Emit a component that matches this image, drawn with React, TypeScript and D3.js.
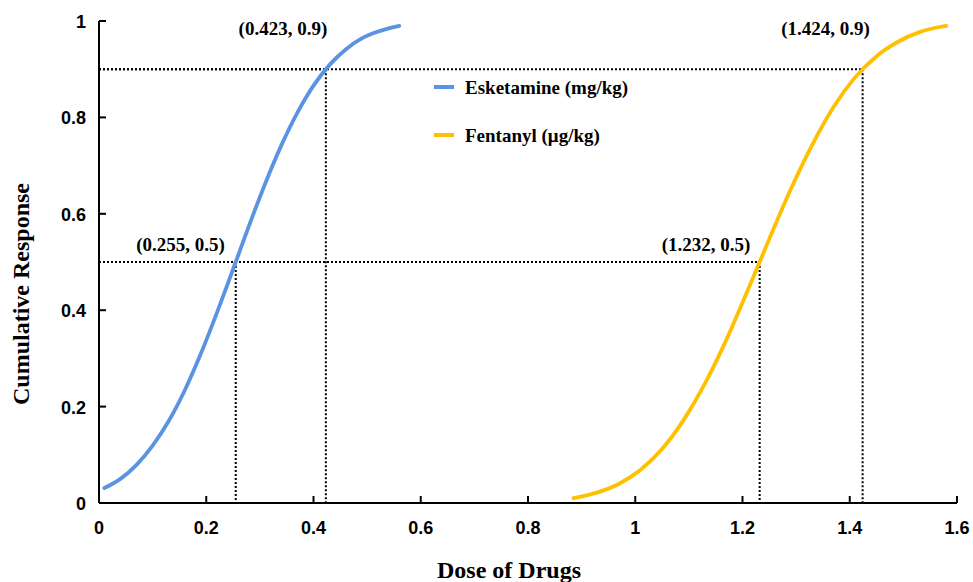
import React from "react";
import * as d3 from "d3";

const esketDose = [0.01, 0.04, 0.07, 0.1, 0.13, 0.16, 0.19, 0.22, 0.255, 0.28, 0.31, 0.34, 0.37, 0.4, 0.43, 0.46, 0.49, 0.52, 0.56];
const esketResp = [0.031, 0.05, 0.079, 0.119, 0.17, 0.234, 0.31, 0.395, 0.5, 0.576, 0.663, 0.742, 0.81, 0.866, 0.909, 0.941, 0.964, 0.978, 0.99];
const fentDose = [0.885, 0.93, 0.97, 1.01, 1.05, 1.09, 1.13, 1.17, 1.21, 1.232, 1.25, 1.29, 1.33, 1.37, 1.41, 1.45, 1.49, 1.53, 1.56, 1.58];
const fentResp = [0.01, 0.022, 0.04, 0.069, 0.112, 0.172, 0.248, 0.339, 0.442, 0.5, 0.548, 0.651, 0.743, 0.822, 0.883, 0.927, 0.957, 0.977, 0.986, 0.99];

const xTicks = [0, 0.2, 0.4, 0.6, 0.8, 1, 1.2, 1.4, 1.6];
const xTickLabels = ["0", "0.2", "0.4", "0.6", "0.8", "1", "1.2", "1.4", "1.6"];
const yTicks = [0, 0.2, 0.4, 0.6, 0.8, 1];
const yTickLabels = ["0", "0.2", "0.4", "0.6", "0.8", "1"];

const marks = [
  { x: 0.423, y: 0.9, label: "(0.423, 0.9)", lx: 0.343, ly: 0.97 },
  { x: 1.424, y: 0.9, label: "(1.424, 0.9)", lx: 1.355, ly: 0.97 },
  { x: 0.255, y: 0.5, label: "(0.255, 0.5)", lx: 0.152, ly: 0.523 },
  { x: 1.232, y: 0.5, label: "(1.232, 0.5)", lx: 1.132, ly: 0.523 },
];

const seriesNames = ["Esketamine (mg/kg)", "Fentanyl (μg/kg)"];
const colors = ["#5B93E3", "#FFC000"];

export default function App() {
  const x = d3.scaleLinear().domain([0, 1.6]).range([99, 957]);
  const y = d3.scaleLinear().domain([0, 1]).range([503, 21]);
  const line = d3.line<[number, number]>().x(d => x(d[0])).y(d => y(d[1])).curve(d3.curveMonotoneX);
  const s1 = esketDose.map((d, i) => [d, esketResp[i]] as [number, number]);
  const s2 = fentDose.map((d, i) => [d, fentResp[i]] as [number, number]);
  const tickFont = "Arial, 'Liberation Sans', sans-serif";
  const serif = "'Times New Roman', 'Liberation Serif', serif";
  return (
    <svg width={973} height={582} style={{ position: "absolute", left: 0, top: 0, background: "#fff" }}>
      {marks.map((m, i) => (
        <g key={i} stroke="#000" strokeWidth={2} strokeDasharray="2 2" fill="none">
          <line x1={x(0)} x2={x(m.x)} y1={y(m.y)} y2={y(m.y)} />
          <line x1={x(m.x)} x2={x(m.x)} y1={y(m.y)} y2={y(0)} />
        </g>
      ))}
      <path d={line(s1) || ""} fill="none" stroke={colors[0]} strokeWidth={3.8} strokeLinecap="round" />
      <path d={line(s2) || ""} fill="none" stroke={colors[1]} strokeWidth={3.8} strokeLinecap="round" />
      <line x1={x(0)} x2={x(1.6)} y1={y(0)} y2={y(0)} stroke="#000" strokeWidth={2} />
      <line x1={x(0)} x2={x(0)} y1={y(0)} y2={y(1)} stroke="#000" strokeWidth={2} />
      {xTicks.map((t, i) => (
        <g key={"x" + i}>
          <line x1={x(t)} x2={x(t)} y1={y(0)} y2={y(0) - 7} stroke="#000" strokeWidth={2} />
          <text x={x(t)} y={y(0) + 31} textAnchor="middle" fontFamily={tickFont} fontWeight="bold" fontSize={18}>{xTickLabels[i]}</text>
        </g>
      ))}
      {yTicks.map((t, i) => (
        <g key={"y" + i}>
          <line x1={x(0)} x2={x(0) + 7} y1={y(t)} y2={y(t)} stroke="#000" strokeWidth={2} />
          <text x={86} y={y(t) + 7} textAnchor="end" fontFamily={tickFont} fontWeight="bold" fontSize={18}>{yTickLabels[i]}</text>
        </g>
      ))}
      {marks.map((m, i) => (
        <text key={"l" + i} x={x(m.lx)} y={y(m.ly)} textAnchor="middle" fontFamily={serif} fontWeight="bold" fontSize={19}>{m.label}</text>
      ))}
      {seriesNames.map((n, i) => (
        <g key={"lg" + i}>
          <line x1={434} x2={454} y1={87 + i * 48} y2={87 + i * 48} stroke={colors[i]} strokeWidth={4} />
          <text x={465} y={94 + i * 48} fontFamily={serif} fontWeight="bold" fontSize={19}>{n}</text>
        </g>
      ))}
      <text x={509} y={578} textAnchor="middle" fontFamily={serif} fontWeight="bold" fontSize={24}>Dose of Drugs</text>
      <text transform="translate(29,294) rotate(-90)" textAnchor="middle" fontFamily={serif} fontWeight="bold" fontSize={24}>Cumulative Response</text>
    </svg>
  );
}
